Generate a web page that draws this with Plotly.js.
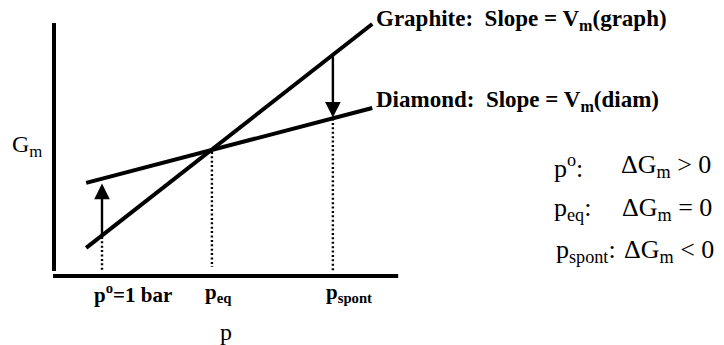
<!DOCTYPE html>
<html>
<head>
<meta charset="utf-8">
<script src="https://cdn.plot.ly/plotly-3.0.1.min.js"></script>
<style>html,body{margin:0;padding:0;background:#fff;}#chart{width:724px;height:345px;}</style>
</head>
<body>
<div id="chart"></div>
<script>
// ---- data (pressure p in arbitrary units, molar Gibbs energy G in arbitrary units) ----
const pLine = [0.67, 6.63];
const gGraphite = [1.17, 10.5];
const gDiamond = [3.88, 7.0];

const pMarks = [1, 3.29, 5.81];
const markLabels = ['p<sup>o</sup>=1 bar', 'p<sub>eq</sub>', 'p<sub>spont</sub>'];
const dropTop = [1.63, 5.17, 6.56];
const dropBottom = [0.17, 0.38, 0.17];

const arrowP = [1, 5.81];
const arrowFrom = [1.69, 9.22];
const arrowTo = [3.85, 6.6];

const xAxisP = [-0.02, 7.17];
const xAxisG = [0, 0];
const yAxisP = [0, 0];
const yAxisG = [0.21, 10.54];

const lineLabels = ['<b>Graphite:  Slope = V<sub>m</sub>(graph)</b>', '<b>Diamond:  Slope = V<sub>m</sub>(diam)</b>'];
const condLeft = ['p<sup>o</sup>:', 'p<sub>eq</sub>:', 'p<sub>spont</sub>:'];
const condRight = ['ΔG<sub>m</sub> > 0', 'ΔG<sub>m</sub> = 0', 'ΔG<sub>m</sub> < 0'];

// ---- layout helpers (pixel -> paper) ----
const W = 724, H = 345;
const px = v => v / W;
const py = v => 1 - v / H;
const serif = 'Liberation Serif';

const traces = [];
traces.push({x: pLine, y: gGraphite, mode: 'lines', line: {color: '#000', width: 4}, hoverinfo: 'skip'});
traces.push({x: pLine, y: gDiamond, mode: 'lines', line: {color: '#000', width: 4}, hoverinfo: 'skip'});
traces.push({x: xAxisP, y: xAxisG, mode: 'lines', line: {color: '#000', width: 4}, hoverinfo: 'skip'});
traces.push({x: yAxisP, y: yAxisG, mode: 'lines', line: {color: '#000', width: 4}, hoverinfo: 'skip'});
for (let i = 0; i < pMarks.length; i++) {
  traces.push({x: [pMarks[i], pMarks[i]], y: [dropTop[i], dropBottom[i]], mode: 'lines',
    line: {color: '#000', width: 2.4, dash: '2px,2.4px'}, hoverinfo: 'skip'});
}

const annotations = [];
for (let i = 0; i < arrowP.length; i++) {
  annotations.push({x: arrowP[i], y: arrowTo[i], ax: arrowP[i], ay: arrowFrom[i],
    xref: 'x', yref: 'y', axref: 'x', ayref: 'y', text: '', showarrow: true,
    arrowhead: 2, arrowsize: 1.3, arrowwidth: 2.4, arrowcolor: '#000', standoff: 0, startstandoff: 0});
}
const markLabelX = [133, 219, 349];
for (let i = 0; i < markLabels.length; i++) {
  annotations.push({x: px(markLabelX[i]), y: py(293), xref: 'paper', yref: 'paper', text: '<b>' + markLabels[i] + '</b>',
    showarrow: false, xanchor: 'center', yanchor: 'middle', font: {family: serif, size: 21, color: '#000'}});
}
annotations.push({x: px(226), y: py(332), xref: 'paper', yref: 'paper', text: 'p', showarrow: false,
  xanchor: 'center', yanchor: 'middle', font: {family: serif, size: 24, color: '#000'}});
annotations.push({x: px(10), y: py(146), xref: 'paper', yref: 'paper', text: 'G<sub>m</sub>', showarrow: false,
  xanchor: 'left', yanchor: 'middle', font: {family: serif, size: 24, color: '#000'}});
const lineLabelY = [20, 101];
for (let i = 0; i < lineLabels.length; i++) {
  annotations.push({x: px(374), y: py(lineLabelY[i]), xref: 'paper', yref: 'paper', text: lineLabels[i], showarrow: false,
    xanchor: 'left', yanchor: 'middle', font: {family: serif, size: 23, color: '#000'}});
}
const condY = [166, 209, 251];
const condLeftX = [552, 552, 554];
const condRightX = [713, 714, 716];
for (let i = 0; i < condLeft.length; i++) {
  annotations.push({x: px(condLeftX[i]), y: py(condY[i]), xref: 'paper', yref: 'paper', text: condLeft[i], showarrow: false,
    xanchor: 'left', yanchor: 'middle', font: {family: serif, size: 26, color: '#000'}});
  annotations.push({x: px(condRightX[i]), y: py(condY[i]), xref: 'paper', yref: 'paper', text: condRight[i], showarrow: false,
    xanchor: 'right', yanchor: 'middle', font: {family: serif, size: 26, color: '#000'}});
}

const layout = {
  width: W, height: H,
  margin: {l: 0, r: 0, t: 0, b: 0, pad: 0},
  paper_bgcolor: '#fff', plot_bgcolor: '#fff',
  showlegend: false,
  xaxis: {range: [-1.125, 13.958], visible: false, fixedrange: true},
  yaxis: {range: [-2.875, 11.5], visible: false, fixedrange: true},
  annotations: annotations
};
Plotly.newPlot('chart', traces, layout, {staticPlot: true, displayModeBar: false});
</script>
</body>
</html>
